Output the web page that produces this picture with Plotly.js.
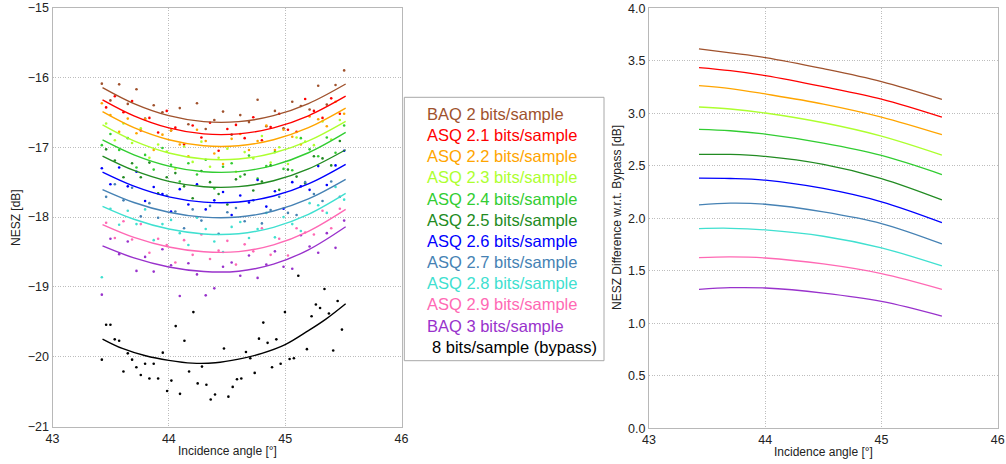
<!DOCTYPE html>
<html>
<head>
<meta charset="utf-8">
<script src="https://cdn.plot.ly/plotly-3.0.1.min.js"></script>
<style>
html,body{margin:0;padding:0;background:#fff;}
#chart{width:1006px;height:464px;}
</style>
</head>
<body>
<div id="chart"></div>
<script>
// ---------- labels ----------
const seriesNames = ["BAQ 2 bits/sample","ASQ 2.1 bits/sample","ASQ 2.2 bits/sample","ASQ 2.3 bits/sample",
  "ASQ 2.4 bits/sample","ASQ 2.5 bits/sample","ASQ 2.6 bits/sample","ASQ 2.7 bits/sample",
  "ASQ 2.8 bits/sample","ASQ 2.9 bits/sample","BAQ 3 bits/sample","8 bits/sample (bypass)"];
const seriesColors = ["#a0522d","#ff0000","#ffa500","#adff2f","#32cd32","#228b22","#0000ff","#4682b4",
  "#40e0d0","#ff69b4","#9932cc","#000000"];
const xTicks = [43,44,45,46];
const leftYTicks = [-21,-20,-19,-18,-17,-16,-15];
const rightYTicks = [0,0.5,1,1.5,2,2.5,3,3.5,4];

// ---------- measured NESZ samples (left panel) ----------
const xEven = [43.424,43.498,43.573,43.647,43.722,43.796,43.870,43.945,44.019,44.094,44.168,44.242,44.317,44.391,44.466,
  44.540,44.614,44.689,44.763,44.838,44.912,44.986,45.061,45.135,45.210,45.284,45.358,45.433,45.507];
const xOdd = [43.461,43.536,43.610,43.684,43.759,43.833,43.908,43.982,44.056,44.131,44.205,44.280,44.354,44.428,
  44.503,44.577,44.652,44.726,44.800,44.875,44.949,45.024,45.098,45.172,45.247,45.321,45.396,45.470];

const ptsBAQ2 = [-16.09,-16.33,-16.10,-16.38,-16.17,-16.59,-16.40,-16.50,-16.76,-16.44,-16.67,-16.37,-16.74,-16.61,-16.49,
  -16.82,-16.54,-16.64,-16.32,-16.70,-16.48,-16.73,-16.35,-16.41,-16.46,-16.12,-16.39,-16.11,-15.90];
const ptsASQ21 = [-16.43,-16.27,-16.50,-16.34,-16.76,-16.58,-16.79,-16.48,-16.72,-16.96,-16.69,-16.86,-16.65,-17.05,
  -16.74,-16.68,-16.87,-16.57,-16.90,-16.71,-16.52,-16.75,-16.78,-16.31,-16.48,-16.58,-16.30,-16.52];
const ptsASQ22 = [-16.37,-16.54,-16.78,-16.59,-16.80,-16.60,-17.04,-16.82,-16.76,-16.96,-17.13,-16.75,-16.91,-17.09,-17.24,
  -16.88,-16.81,-17.04,-16.91,-16.69,-17.04,-16.75,-16.85,-16.96,-16.56,-16.60,-16.70,-16.35,-16.52];
const ptsASQ23 = [-16.66,-16.90,-16.66,-16.94,-16.73,-17.15,-16.96,-17.06,-17.31,-16.99,-17.21,-16.92,-17.28,-17.15,
  -17.02,-17.35,-17.07,-17.16,-16.84,-17.22,-17.00,-17.24,-16.86,-16.92,-16.97,-16.63,-16.89,-16.61];
const ptsASQ24 = [-16.97,-16.81,-17.04,-16.87,-17.29,-17.11,-17.32,-17.01,-17.25,-17.49,-17.23,-17.39,-17.18,-17.59,-17.28,
  -17.23,-17.42,-17.12,-17.45,-17.27,-17.07,-17.31,-17.33,-16.87,-17.03,-17.13,-16.86,-17.08,-16.69];
const ptsASQ25 = [-17.03,-17.19,-17.43,-17.23,-17.43,-17.22,-17.66,-17.43,-17.37,-17.56,-17.73,-17.34,-17.50,-17.67,
  -17.82,-17.46,-17.39,-17.62,-17.49,-17.26,-17.61,-17.32,-17.42,-17.52,-17.13,-17.16,-17.26,-16.91];
const ptsASQ26 = [-17.30,-17.53,-17.29,-17.56,-17.35,-17.77,-17.57,-17.67,-17.92,-17.60,-17.82,-17.53,-17.89,-17.76,-17.64,
  -17.97,-17.69,-17.79,-17.47,-17.85,-17.63,-17.88,-17.50,-17.56,-17.61,-17.27,-17.54,-17.26,-17.05];
const ptsASQ27 = [-17.71,-17.53,-17.76,-17.58,-17.99,-17.80,-18.01,-17.69,-17.92,-18.16,-17.89,-18.05,-17.84,-18.24,
  -17.93,-17.87,-18.06,-17.76,-18.09,-17.90,-17.71,-17.94,-17.97,-17.50,-17.67,-17.77,-17.49,-17.71];
const ptsASQ28 = [-18.86,-17.88,-18.11,-17.91,-18.10,-17.89,-18.33,-18.10,-18.04,-18.23,-18.40,-18.01,-18.17,-18.35,-18.50,
  -18.14,-18.07,-18.30,-18.17,-17.94,-18.29,-18.00,-18.10,-18.20,-17.80,-17.83,-17.94,-17.57,-17.75];
const ptsASQ29 = [-18.08,-18.30,-18.06,-18.32,-18.10,-18.51,-18.31,-18.40,-18.65,-18.33,-18.54,-18.25,-18.60,-18.48,
  -18.34,-18.68,-18.39,-18.49,-18.16,-18.54,-18.31,-18.55,-18.16,-18.22,-18.25,-17.91,-18.16,-17.88];
const ptsBAQ3 = [-19.11,-18.31,-18.53,-18.35,-18.77,-18.57,-18.78,-18.46,-18.69,-19.13,-18.66,-18.82,-19.12,-19.02,-18.71,
  -18.65,-18.84,-18.55,-18.87,-18.68,-18.49,-18.71,-18.74,-18.26,-18.42,-18.51,-18.23,-18.44,-18.05];
const xBypass = [43.424,43.461,43.498,43.535,43.573,43.610,43.647,43.684,43.721,43.759,43.796,43.833,43.870,43.908,43.948,
  43.985,44.022,44.059,44.096,44.134,44.174,44.211,44.248,44.285,44.323,44.360,44.397,44.474,44.512,44.549,44.586,44.623,
  44.663,44.700,44.738,44.775,44.812,44.849,44.887,44.924,44.961,44.998,45.038,45.075,45.113,45.187,45.227,45.264,45.300,
  45.338,45.376,45.413,45.451,45.488];
const ptsBypass = [-20.04,-19.54,-19.54,-19.75,-19.77,-20.21,-19.95,-20.04,-20.15,-20.26,-20.10,-20.31,-20.10,-20.31,-19.94,
  -20.49,-20.34,-19.56,-20.53,-19.77,-20.21,-19.36,-20.38,-20.14,-20.40,-20.61,-20.54,-19.88,-20.57,-20.43,-20.32,-20.31,
  -19.93,-20.02,-20.23,-19.74,-19.51,-19.80,-20.15,-19.75,-20.10,-19.36,-20.03,-20.02,-18.84,-19.89,-19.42,-19.25,-19.30,
  -19.03,-19.38,-19.91,-19.20,-19.61];

// ---------- fitted NESZ curves (left panel) ----------
const fitX = [43.43,43.7,44.0,44.3,44.6,44.9,45.2,45.52];
const fitBAQ2  = [-16.146,-16.375,-16.548,-16.634,-16.634,-16.548,-16.375,-16.095];
const fitASQ21 = [-16.321,-16.550,-16.723,-16.809,-16.809,-16.723,-16.550,-16.270];
const fitASQ22 = [-16.491,-16.720,-16.893,-16.979,-16.979,-16.893,-16.720,-16.440];
const fitASQ23 = [-16.681,-16.910,-17.083,-17.169,-17.169,-17.083,-16.910,-16.630];
const fitASQ24 = [-16.896,-17.109,-17.270,-17.350,-17.349,-17.259,-17.079,-16.788];
const fitASQ25 = [-17.126,-17.332,-17.488,-17.565,-17.564,-17.480,-17.310,-17.036];
const fitASQ26 = [-17.356,-17.557,-17.710,-17.785,-17.784,-17.698,-17.525,-17.245];
const fitASQ27 = [-17.606,-17.791,-17.931,-18.001,-17.999,-17.913,-17.740,-17.460];
const fitASQ28 = [-17.846,-18.031,-18.171,-18.241,-18.238,-18.146,-17.961,-17.661];
const fitASQ29 = [-18.107,-18.290,-18.428,-18.497,-18.494,-18.397,-18.204,-17.890];
const fitBAQ3  = [-18.413,-18.584,-18.714,-18.779,-18.774,-18.673,-18.468,-18.138];
const fitBypassX = [43.43,43.6,43.8,44.0,44.2,44.4,44.6,44.8,45.0,45.2,45.35,45.52];
const fitBypass  = [-19.745,-19.88,-19.985,-20.05,-20.09,-20.085,-20.033,-19.951,-19.826,-19.625,-19.46,-19.24];

// ---------- NESZ difference w.r.t. bypass (right panel) ----------
const diffX = [43.43,43.7,44.0,44.5,45.0,45.52];
const diffBAQ2  = [3.613,3.575,3.531,3.425,3.302,3.133];
const diffASQ21 = [3.435,3.406,3.359,3.254,3.136,2.964];
const diffASQ22 = [3.263,3.235,3.184,3.088,2.964,2.796];
const diffASQ23 = [3.060,3.041,3.003,2.910,2.783,2.602];
const diffASQ24 = [2.847,2.834,2.802,2.716,2.599,2.417];
const diffASQ25 = [2.608,2.608,2.589,2.513,2.379,2.176];
const diffASQ26 = [2.382,2.379,2.363,2.284,2.157,1.959];
const diffASQ27 = [2.128,2.144,2.134,2.061,1.950,1.756];
const diffASQ28 = [1.902,1.905,1.889,1.829,1.718,1.546];
const diffASQ29 = [1.625,1.632,1.622,1.565,1.473,1.323];
const diffBAQ3  = [1.323,1.339,1.336,1.288,1.209,1.069];

const ptsX = [xEven,xOdd,xEven,xOdd,xEven,xOdd,xEven,xOdd,xEven,xOdd,xEven,xBypass];
const ptsY = [ptsBAQ2,ptsASQ21,ptsASQ22,ptsASQ23,ptsASQ24,ptsASQ25,ptsASQ26,ptsASQ27,ptsASQ28,ptsASQ29,ptsBAQ3,ptsBypass];
const fitXs = [fitX,fitX,fitX,fitX,fitX,fitX,fitX,fitX,fitX,fitX,fitX,fitBypassX];
const fitY = [fitBAQ2,fitASQ21,fitASQ22,fitASQ23,fitASQ24,fitASQ25,fitASQ26,fitASQ27,fitASQ28,fitASQ29,fitBAQ3,fitBypass];
const diffY = [diffBAQ2,diffASQ21,diffASQ22,diffASQ23,diffASQ24,diffASQ25,diffASQ26,diffASQ27,diffASQ28,diffASQ29,diffBAQ3];

const W = 1006, H = 464;
const px = v => v / W;
const py = v => 1 - v / H;
const FONT = "Liberation Sans, Arial, Helvetica, sans-serif";

const traces = [];
for (let k = 0; k < seriesNames.length; k++) {
  traces.push({x: ptsX[k], y: ptsY[k], xaxis: 'x', yaxis: 'y', mode: 'markers', type: 'scatter',
    marker: {color: seriesColors[k], size: 2.6}, showlegend: false, hoverinfo: 'skip'});
}
for (let k = 0; k < seriesNames.length; k++) {
  traces.push({x: fitXs[k], y: fitY[k], xaxis: 'x', yaxis: 'y', mode: 'lines', type: 'scatter',
    line: {color: seriesColors[k], width: 1.4, shape: 'spline', smoothing: 1}, showlegend: false, hoverinfo: 'skip'});
}
for (let k = 0; k < diffY.length; k++) {
  traces.push({x: diffX, y: diffY[k], xaxis: 'x2', yaxis: 'y2', mode: 'lines', type: 'scatter',
    line: {color: seriesColors[k], width: 1.3, shape: 'spline', smoothing: 1}, showlegend: false, hoverinfo: 'skip'});
}

const axisCommon = {
  showline: true, mirror: true, linecolor: '#b8b8b8', linewidth: 1,
  showgrid: true, gridcolor: '#bdbdbd', griddash: '1px,1.5px', gridwidth: 1,
  zeroline: false, ticks: '', tickfont: {family: FONT, size: 12.5, color: '#222'}
};

const annotations = [];
for (let k = 0; k < seriesNames.length; k++) {
  annotations.push({xref: 'paper', yref: 'paper', x: px(k === 11 ? 430 : 425), y: py(114 + 21.15 * k),
    xanchor: 'left', yanchor: 'middle', showarrow: false, text: seriesNames[k],
    font: {family: FONT, size: 16.5, color: seriesColors[k]}});
}
const titleFont = {family: FONT, size: 12, color: '#222'};
annotations.push({xref: 'paper', yref: 'paper', x: px(16), y: py(217), textangle: -90, showarrow: false,
  xanchor: 'center', yanchor: 'middle', text: 'NESZ [dB]', font: titleFont});
annotations.push({xref: 'paper', yref: 'paper', x: px(227), y: py(451), showarrow: false,
  xanchor: 'center', yanchor: 'middle', text: 'Incidence angle [°]', font: titleFont});
annotations.push({xref: 'paper', yref: 'paper', x: px(617), y: py(218), textangle: -90, showarrow: false,
  xanchor: 'center', yanchor: 'middle', text: 'NESZ Difference w.r.t. Bypass [dB]', font: titleFont});
annotations.push({xref: 'paper', yref: 'paper', x: px(823), y: py(452), showarrow: false,
  xanchor: 'center', yanchor: 'middle', text: 'Incidence angle [°]', font: titleFont});

const layout = {
  width: W, height: H, margin: {l: 0, r: 0, t: 0, b: 0},
  paper_bgcolor: '#fff', plot_bgcolor: '#fff', showlegend: false,
  xaxis: Object.assign({}, axisCommon, {domain: [px(52.5), px(401.5)], range: [43, 46], tickvals: xTicks, anchor: 'y'}),
  yaxis: Object.assign({}, axisCommon, {domain: [py(426.7), py(7.5)], range: [-21, -15], tickvals: leftYTicks, anchor: 'x'}),
  xaxis2: Object.assign({}, axisCommon, {domain: [px(649), px(997.7)], range: [43, 46], tickvals: xTicks, anchor: 'y2'}),
  yaxis2: Object.assign({}, axisCommon, {domain: [py(428.3), py(8.3)], range: [0, 4], tickvals: rightYTicks,
    tickformat: '.1f', anchor: 'x2'}),
  shapes: [{type: 'rect', xref: 'paper', yref: 'paper', x0: px(404.3), x1: px(604), y0: py(360.7), y1: py(97.3),
    line: {color: '#a8a8a8', width: 1}, fillcolor: '#fff', layer: 'above'}],
  annotations: annotations
};

Plotly.newPlot('chart', traces, layout, {staticPlot: true, displayModeBar: false});
</script>
</body>
</html>
